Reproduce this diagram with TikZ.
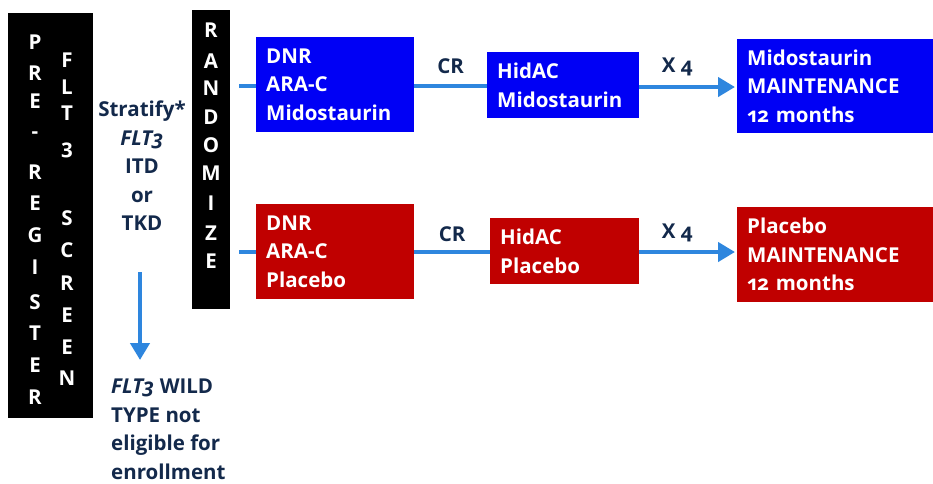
\documentclass[tikz,border=0pt]{standalone}
\usepackage{fontspec}
\setmainfont{Open Sans}[Numbers=OldStyle]
\usetikzlibrary{arrows.meta,calc}
\definecolor{navy}{HTML}{13294B}
\definecolor{armblue}{HTML}{0000F5}
\definecolor{armred}{HTML}{C00000}
\definecolor{conncol}{HTML}{2E86DE}
\tikzset{
  x=1pt, y=-1pt,
  every node/.style={font=\bfseries\fontsize{20.5}{28.5}\selectfont},
  blackbox/.style={fill=black, draw=none},
  vletter/.style={text=white, inner sep=0pt, anchor=center},
  armbox/.style={text=white, anchor=north west, align=left, inner xsep=10pt, inner ysep=0pt, draw=none},
  conn/.style={draw=conncol, line width=4.5pt},
  connarrow/.style={conn, -{Triangle[length=17pt,width=19pt]}},
  lbl/.style={text=navy, inner sep=0pt},
}
\begin{document}
\begin{tikzpicture}
\useasboundingbox (0,0) rectangle (933,483);
% left black box
\node[blackbox, anchor=north west, minimum width=85pt, minimum height=405pt, inner sep=0pt] (prebox) at (8,13) {};
\foreach \l/\y [count=\i] in {P/42,R/73,E/101,-/135,R/172,E/203,G/235,I/267,S/302,T/333,E/365,R/397}
  \node[vletter] (pre\i) at (35,\y) {\l};
\foreach \l/\y [count=\i] in {F/60,L/87,T/113,3/150,S/218,C/250,R/283,E/315,E/347,N/378}
  \node[vletter] (flt\i) at (67,\y) {\l};
% randomize box
\node[blackbox, anchor=north west, minimum width=38pt, minimum height=299pt, inner sep=0pt] (rand) at (192,10) {};
\foreach \l/\y [count=\i] in {R/30,A/61,N/88,D/117,O/145,M/173,I/203,Z/233,E/261}
  \node[vletter] (rnd\i) at (211,\y) {\l};
% stratify text
\node[lbl, align=center, anchor=north] (strat) at (142,101) {Stratify*\\\textit{FLT3}\\ITD\\or\\TKD};
\node[lbl, align=left, anchor=north west] (wild) at (111,379) {\textit{FLT3} WILD\\TYPE not\\eligible for\\enrollment};
\draw[connarrow, shorten <=41pt, shorten >=19pt] (strat.south -| 140,0) -- (wild.north -| 140,0);
% arm boxes
\node[armbox, fill=armblue, minimum width=158pt, minimum height=95pt, text width=138pt] (dnr1) at (256,37) {DNR\\ARA-C\\Midostaurin};
\node[armbox, fill=armred, minimum width=158pt, minimum height=95pt, text width=138pt] (dnr2) at (256,204) {DNR\\ARA-C\\Placebo};
\node[armbox, fill=armblue, minimum width=152pt, minimum height=66pt, text width=132pt] (hid1) at (487,52) {HidAC\\Midostaurin};
\node[armbox, fill=armred, minimum width=149pt, minimum height=66pt, text width=129pt] (hid2) at (490,218) {HidAC\\Placebo};
\node[armbox, fill=armblue, minimum width=196pt, minimum height=94pt, text width=176pt] (main1) at (737,39) {Midostaurin\\MAINTENANCE\\12 months};
\node[armbox, fill=armred, minimum width=196pt, minimum height=95pt, text width=176pt] (main2) at (737,207) {Placebo\\MAINTENANCE\\12 months};
% connectors
\draw[conn, shorten <=9pt] (rand.east |- 0,86) -- (dnr1.west |- 0,86);
\draw[conn, shorten <=9pt] (rand.east |- 0,252) -- (dnr2.west |- 0,252);
\draw[conn] (dnr1.east |- 0,86) -- node[lbl, above=10pt] (cr1) {CR} (hid1.west |- 0,86);
\draw[conn] (dnr2.east |- 0,252) -- node[lbl, above=8pt] (cr2) {CR} (hid2.west |- 0,252);
\draw[connarrow, shorten >=2pt] (hid1.east |- 0,87) -- node[lbl, above=9pt, xshift=-11pt] (x1) {X 4} (main1.west |- 0,87);
\draw[connarrow, shorten >=2pt] (hid2.east |- 0,252) -- node[lbl, above=8pt, xshift=-11pt] (x2) {X 4} (main2.west |- 0,252);
\end{tikzpicture}
\end{document}
